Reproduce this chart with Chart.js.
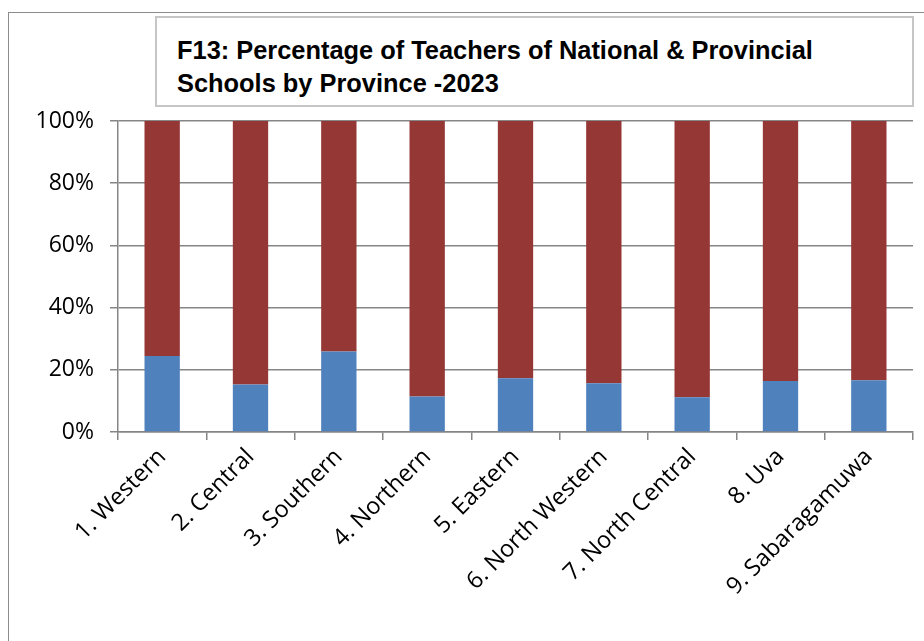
<!DOCTYPE html>
<html>
<head>
<meta charset="utf-8">
<script src="https://cdn.jsdelivr.net/npm/chart.js@4/dist/chart.umd.min.js"></script>
<style>
  html, body { margin: 0; padding: 0; background: #fff; }
  #wrap { position: relative; width: 924px; height: 641px; overflow: hidden; background: #fff; }
  #frame { position: absolute; left: 8px; top: 12px; width: 940px; height: 660px; border: 1.5px solid #8c8c8c; box-sizing: border-box; }
  #chartBox { position: absolute; left: 0; top: 0; width: 924px; height: 641px; }
  #title { position: absolute; left: 155px; top: 16px; width: 759px; height: 91px; box-sizing: border-box;
           border: 2px solid #c6c6c6; background: #fff;
           font-family: "Liberation Sans", Arial, sans-serif; font-weight: bold; font-size: 25.4px; line-height: 33px;
           padding: 16px 0 0 20px; color: #000; white-space: nowrap; }
</style>
</head>
<body>
<div id="wrap">
  <div id="frame"></div>
  <div id="chartBox"><canvas id="c" width="924" height="641"></canvas></div>
  <div id="title">F13: Percentage of Teachers of National &amp; Provincial<br>Schools by Province -2023</div>
</div>
<script>
const categories = ["1. Western", "2. Central", "3. Southern", "4. Northern", "5. Eastern", "6. North Western", "7. North Central", "8. Uva", "9. Sabaragamuwa"];
const nationalPct = [24.4, 15.3, 25.9, 11.4, 17.3, 15.7, 11.2, 16.4, 16.6];
const provincialPct = [75.6, 84.7, 74.1, 88.6, 82.7, 84.3, 88.8, 83.6, 83.4];
const yTickValues = [0, 20, 40, 60, 80, 100];

const gridColor = "#868686";
const fontFamily = "'Open Sans', 'Liberation Sans', Arial, sans-serif";

new Chart(document.getElementById("c"), {
  type: "bar",
  data: {
    labels: categories,
    datasets: [
      { label: "National", data: nationalPct, backgroundColor: "#4f81bd", borderWidth: 0 },
      { label: "Provincial", data: provincialPct, backgroundColor: "#953735", borderWidth: 0 }
    ]
  },
  options: {
    responsive: false,
    animation: false,
    devicePixelRatio: 1,
    layout: { padding: { left: 0, right: 11, top: 121, bottom: 0 } },
    plugins: { legend: { display: false }, tooltip: { enabled: false }, title: { display: false } },
    datasets: { bar: { categoryPercentage: 1, barPercentage: 0.4 } },
    scales: {
      x: {
        stacked: true,
        offset: true,
        grid: { display: true, offset: true, drawOnChartArea: false, drawTicks: true, tickLength: 8, color: gridColor, lineWidth: 1.5 },
        border: { display: true, color: gridColor, width: 1.5 },
        ticks: { color: "#000", font: { family: fontFamily, size: 23.5 }, minRotation: 45, maxRotation: 45, padding: 3, autoSkip: false },
        afterFit: (s) => { s.height = 641 - 432; }
      },
      y: {
        stacked: true,
        min: 0,
        max: 100,
        afterBuildTicks: (s) => { s.ticks = yTickValues.map(v => ({ value: v })); },
        grid: { color: gridColor, lineWidth: 1.5, drawTicks: true, tickLength: 8 },
        border: { display: true, color: gridColor, width: 1.5 },
        ticks: { color: "#000", font: { family: fontFamily, size: 23 }, padding: 16, callback: (v) => v + "%" },
        afterFit: (s) => { s.width = 118; }
      }
    }
  }
});
</script>
</body>
</html>
